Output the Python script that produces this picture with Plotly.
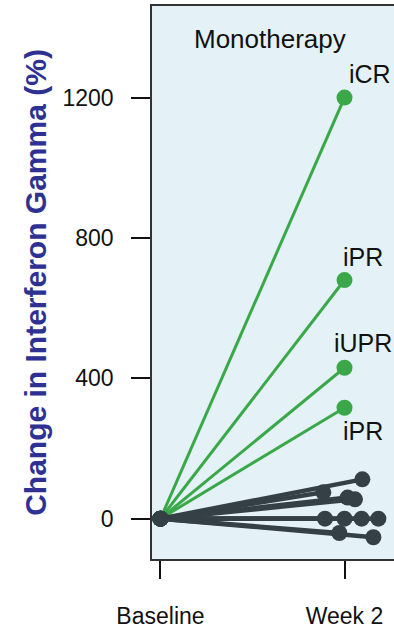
import plotly.graph_objects as go

# ---- data ----
timepoints = ["Baseline", "Week 2"]
responder_labels = ["iCR", "iPR", "iUPR", "iPR"]
responder_week2 = [1200, 680, 430, 316]
other_week2 = [112, 75, 60, 55, 0, 0, 0, 0, -41, -53]
other_jitter = [1.097, 0.885, 1.017, 1.057, 0.894, 1.0, 1.093, 1.184, 0.972, 1.157]
yticks = [0, 400, 800, 1200]

GREEN = "#3aa849"
DARK = "#344046"
BG = "#e4f1f6"
FONT = "Liberation Sans, Arial, sans-serif"

fig = go.Figure()

for v in responder_week2:
    fig.add_trace(go.Scatter(
        x=[0, 1], y=[0, v], mode="lines+markers",
        line=dict(color=GREEN, width=3),
        marker=dict(color=GREEN, size=16), showlegend=False, cliponaxis=False))

for xj, v in zip(other_jitter, other_week2):
    fig.add_trace(go.Scatter(
        x=[0, xj], y=[0, v], mode="lines+markers",
        line=dict(color=DARK, width=4.5),
        marker=dict(color=DARK, size=16), showlegend=False, cliponaxis=False))

# response labels
label_side = [1, 1, 1, -1]
for lab, v, s in zip(responder_labels, responder_week2, label_side):
    fig.add_annotation(x=1.10 if lab != "iCR" else 1.14, y=v + s * 67 + (5 if lab == "iUPR" else 0),
                       text=lab, showarrow=False, xanchor="center", yanchor="middle",
                       font=dict(family=FONT, size=25, color="#111111"))

fig.add_annotation(x=0.595, y=1366, text="Monotherapy", showarrow=False,
                   xanchor="center", yanchor="middle",
                   font=dict(family=FONT, size=26, color="#111111"))

fig.update_layout(
    width=394, height=629,
    margin=dict(l=152, r=0, t=6, b=62),
    plot_bgcolor=BG, paper_bgcolor="white",
    font=dict(family=FONT, size=23, color="#111111"),
    xaxis=dict(
        range=[-0.046, 1.269], tickvals=[0, 1], ticktext=timepoints,
        showgrid=False, zeroline=False, showline=True, linecolor="#333333",
        linewidth=1.5, mirror=True, ticks="outside", ticklen=18, tickwidth=1.5,
        tickcolor="#111111", ticklabelstandoff=18,
        tickfont=dict(family=FONT, size=23, color="#111111")),
    yaxis=dict(
        range=[-115, 1461], tickvals=yticks,
        showgrid=False, zeroline=False, showline=True, linecolor="#333333",
        linewidth=1.5, ticks="outside", ticklen=19, tickwidth=1.5,
        tickcolor="#111111", ticklabelstandoff=13,
        tickfont=dict(family=FONT, size=23, color="#111111"),
        title=dict(text="<b>Change in Interferon Gamma (%)</b>",
                   font=dict(family=FONT, size=30, color="#2e3192"), standoff=7)),
)

fig.write_html("out.html", config={"displayModeBar": False},
               post_script="document.body.style.margin='0';document.body.style.overflow='hidden';")
